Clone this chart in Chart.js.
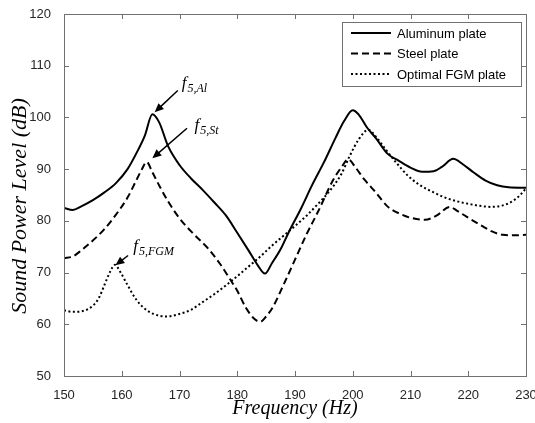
<!DOCTYPE html>
<html>
<head>
<meta charset="utf-8">
<script src="https://cdn.jsdelivr.net/npm/chart.js@4.4.1/dist/chart.umd.min.js"></script>
<style>
  html, body { margin: 0; padding: 0; background: #fff; }
  canvas { display: block; }
</style>
</head>
<body>
<canvas id="chart" width="535" height="423"></canvas>
<script>
"use strict";

// values
const alFreq = [150, 151.5, 153, 155, 157, 159, 161, 162.5, 164, 165.3, 166.5, 168, 170, 172, 174, 176, 178, 180, 182, 183.5, 184.8, 186, 187.5, 189, 191, 193, 195, 197, 198.5, 200, 201, 202.5, 204, 206, 208, 210, 212, 214, 215.5, 217.4, 219, 221, 223, 225, 227, 230];
const alLevel = [82.5, 82.1, 82.8, 84, 85.5, 87.3, 90, 93, 96.5, 100.6, 99, 94.5, 90.8, 88.2, 86, 83.6, 81.1, 77.7, 74.2, 71.5, 69.8, 71.8, 74.5, 78, 82.3, 87, 91.3, 96, 99.3, 101.4, 100.6, 98, 96, 93, 91.6, 90.3, 89.5, 89.6, 90.5, 92, 91, 89.3, 87.8, 86.9, 86.5, 86.4];

const stFreq = [150, 151.5, 153, 155, 157, 159, 161, 162.5, 163.5, 164.3, 165.3, 166.6, 168, 170, 172.5, 175, 177, 178.7, 180, 181.5, 183, 184, 185, 186.2, 188, 190, 192, 194, 196.6, 198, 199.2, 200.5, 202, 204, 206, 208.5, 210, 212.5, 214.5, 216.8, 218, 219.7, 222.6, 224, 226, 228, 230];
const stLevel = [72.8, 73.1, 74.3, 76.2, 78.4, 81.2, 84.5, 87.8, 90, 91.4, 89.4, 86.6, 83.8, 80.5, 77.4, 74.6, 71.7, 68.8, 66.5, 63.2, 61, 60.5, 61.5, 63.4, 67.6, 72.5, 77.4, 81.8, 87.9, 90.3, 91.9, 90.3, 88, 85.5, 82.8, 81.2, 80.6, 80.2, 81, 82.7, 82, 80.8, 78.9, 78, 77.3, 77.2, 77.3];

const fgmFreq = [150, 151.5, 153, 155, 156, 157, 158, 158.8, 159.8, 161, 162.5, 164, 165.5, 167.8, 170, 172, 174, 176, 178, 180, 182, 184, 186, 188, 190, 192, 194, 196, 198, 199.5, 201, 202.7, 204, 205.5, 207.5, 209.5, 211.5, 214, 216, 218, 220, 222, 224, 226, 227.5, 229, 230];
const fgmLevel = [62.7, 62.4, 62.5, 63.6, 65, 67.6, 70.2, 71.5, 70, 67.6, 64.8, 63, 62, 61.5, 62, 62.8, 64.3, 65.8, 67.5, 69.3, 71.2, 73.1, 75.2, 77.1, 79, 81, 83.3, 85.8, 89, 92.6, 95.7, 97.6, 96.3, 94.1, 91.3, 88.8, 87, 85.5, 84.5, 83.8, 83.3, 82.9, 82.7, 83, 83.7, 85, 86.3];

const seriesNames = ["Aluminum plate", "Steel plate", "Optimal FGM plate"];
const xTicks = [150, 160, 170, 180, 190, 200, 210, 220, 230];
const yTicks = [50, 60, 70, 80, 90, 100, 110, 120];

// peak labels: [main, subscript, text x, text y, arrow tail x, y, arrow head x, y]
const peakNotes = [
    ["f", "5,Al", 170.4, 105.6, 169.7, 105.2, 165.7, 101.0],
    ["f", "5,St", 172.6, 97.6, 171.3, 97.9, 165.3, 92.1],
    ["f", "5,FGM", 162.0, 74.2, 161.1, 73.3, 158.9, 71.4],
];

const toPoints = (xs, ys) => xs.map((x, i) => ({ x: x, y: ys[i] }));

const frame = {
    id: "frame",
    afterDraw(chart) {
        const ctx = chart.ctx;
        const a = chart.chartArea;
        const xs = chart.scales.x;
        const ys = chart.scales.y;
        ctx.save();
        ctx.strokeStyle = "#707070";
        ctx.lineWidth = 1;
        ctx.strokeRect(Math.round(a.left) + 0.5, Math.round(a.top) + 0.5,
            Math.round(a.right - a.left), Math.round(a.bottom - a.top));
        ctx.beginPath();
        xTicks.forEach(v => {
            const p = Math.round(xs.getPixelForValue(v)) + 0.5;
            ctx.moveTo(p, a.bottom); ctx.lineTo(p, a.bottom - 5);
            ctx.moveTo(p, a.top); ctx.lineTo(p, a.top + 5);
        });
        yTicks.forEach(v => {
            const p = Math.round(ys.getPixelForValue(v)) + 0.5;
            ctx.moveTo(a.left, p); ctx.lineTo(a.left + 5, p);
            ctx.moveTo(a.right, p); ctx.lineTo(a.right - 5, p);
        });
        ctx.stroke();

        // y axis title
        ctx.save();
        ctx.translate(20, 206);
        ctx.rotate(-Math.PI / 2);
        ctx.fillStyle = "#000";
        ctx.font = "italic 22px 'Liberation Serif', 'Times New Roman', serif";
        ctx.textAlign = "center";
        ctx.textBaseline = "middle";
        ctx.fillText("Sound Power Level (dB)", 0, 0);
        ctx.restore();

        // peak annotations
        ctx.fillStyle = "#000";
        ctx.strokeStyle = "#000";
        ctx.textBaseline = "alphabetic";
        peakNotes.forEach(n => {
            const tx = xs.getPixelForValue(n[2]);
            const ty = ys.getPixelForValue(n[3]);
            ctx.font = "italic 17px 'Liberation Serif', 'Times New Roman', serif";
            ctx.fillText(n[0], tx, ty);
            const w = ctx.measureText(n[0]).width;
            ctx.font = "italic 12px 'Liberation Serif', 'Times New Roman', serif";
            ctx.fillText(n[1], tx + w + 1, ty + 4);

            const x1 = xs.getPixelForValue(n[4]), y1 = ys.getPixelForValue(n[5]);
            const x2 = xs.getPixelForValue(n[6]), y2 = ys.getPixelForValue(n[7]);
            const ang = Math.atan2(y2 - y1, x2 - x1);
            ctx.lineWidth = 1.5;
            ctx.beginPath();
            ctx.moveTo(x1, y1);
            ctx.lineTo(x2 - 6 * Math.cos(ang), y2 - 6 * Math.sin(ang));
            ctx.stroke();
            ctx.beginPath();
            ctx.moveTo(x2, y2);
            ctx.lineTo(x2 - 9 * Math.cos(ang) + 4 * Math.sin(ang), y2 - 9 * Math.sin(ang) - 4 * Math.cos(ang));
            ctx.lineTo(x2 - 9 * Math.cos(ang) - 4 * Math.sin(ang), y2 - 9 * Math.sin(ang) + 4 * Math.cos(ang));
            ctx.closePath();
            ctx.fill();
        });

        // legend box
        const lx = 342, ly = 22, lw = 179, lh = 64;
        ctx.fillStyle = "#fff";
        ctx.fillRect(lx, ly, lw, lh);
        ctx.strokeStyle = "#707070";
        ctx.lineWidth = 1;
        ctx.strokeRect(lx + 0.5, ly + 0.5, lw, lh);
        ctx.font = "13px 'Liberation Sans', Arial, sans-serif";
        ctx.textBaseline = "middle";
        chart.data.datasets.forEach((ds, i) => {
            const rowY = ly + 11 + i * 20.5;
            ctx.strokeStyle = "#000";
            ctx.lineWidth = ds.borderWidth;
            ctx.setLineDash(ds.borderDash || []);
            ctx.beginPath();
            ctx.moveTo(lx + 9, rowY);
            ctx.lineTo(lx + 49, rowY);
            ctx.stroke();
            ctx.setLineDash([]);
            ctx.fillStyle = "#000";
            ctx.fillText(ds.label, lx + 55, rowY + 1);
        });
        ctx.restore();
    }
};

const tickFont = { family: "'Liberation Sans', Arial, sans-serif", size: 13 };
const titleFont = { family: "'Liberation Serif', 'Times New Roman', serif", size: 20, style: "italic" };

new Chart(document.querySelector("#chart").getContext("2d"), {
    type: "line",
    data: {
        datasets: [
            { label: seriesNames[0], data: toPoints(alFreq, alLevel), borderColor: "#000", borderWidth: 2, borderDash: [] },
            { label: seriesNames[1], data: toPoints(stFreq, stLevel), borderColor: "#000", borderWidth: 2, borderDash: [7, 4] },
            { label: seriesNames[2], data: toPoints(fgmFreq, fgmLevel), borderColor: "#000", borderWidth: 2, borderDash: [2, 2.5] },
        ],
    },
    options: {
        responsive: false,
        animation: false,
        layout: { padding: { top: 14, right: 9, left: 0, bottom: 0 } },
        elements: {
            point: { radius: 0 },
            line: { tension: 0.3, cubicInterpolationMode: "monotone", fill: false },
        },
        plugins: {
            legend: { display: false },
            tooltip: { enabled: false },
        },
        scales: {
            x: {
                type: "linear",
                min: 150,
                max: 230,
                afterBuildTicks: (scale) => { scale.ticks = xTicks.map(v => ({ value: v })); },
                afterFit: (scale) => { scale.height = 47; scale.paddingLeft = 0; scale.paddingRight = 0; },
                grid: { display: false },
                border: { display: false },
                ticks: { font: tickFont, color: "#262626", padding: 4, maxRotation: 0 },
                title: { display: true, text: "Frequency (Hz)", font: titleFont, color: "#000", padding: { top: 0, bottom: 2 } },
            },
            y: {
                type: "linear",
                min: 50,
                max: 120,
                afterBuildTicks: (scale) => { scale.ticks = yTicks.map(v => ({ value: v })); },
                afterFit: (scale) => { scale.width = 64; },
                grid: { display: false },
                border: { display: false },
                ticks: { font: tickFont, color: "#262626", padding: 5 },
            },
        },
    },
    plugins: [frame],
});
</script>
</body>
</html>
